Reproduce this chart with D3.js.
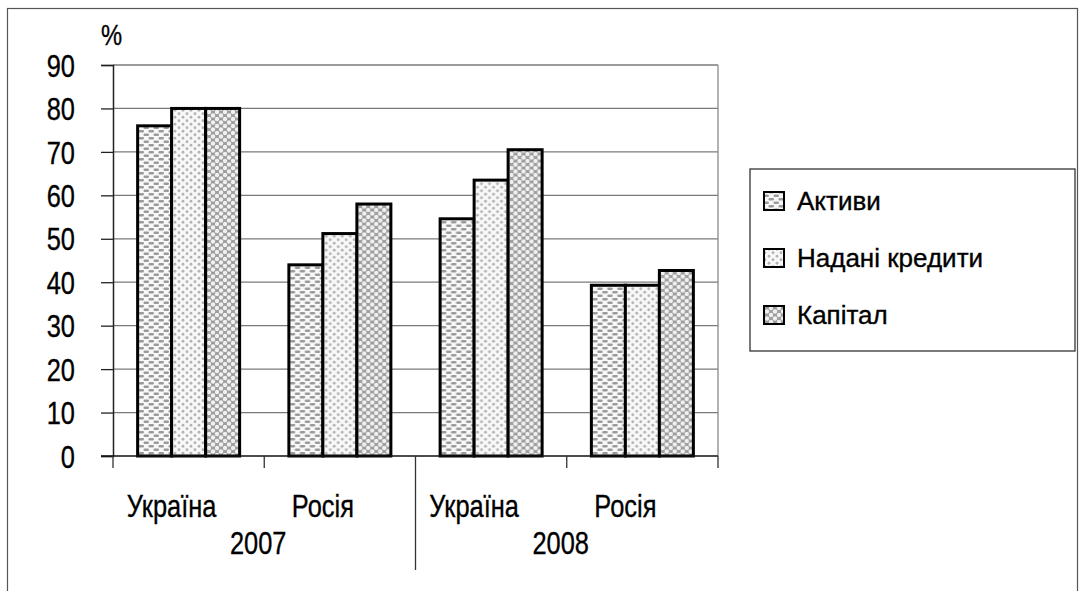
<!DOCTYPE html>
<html><head><meta charset="utf-8">
<script src="https://cdn.jsdelivr.net/npm/d3@7/dist/d3.min.js"></script>
<style>html,body{margin:0;padding:0;background:#fff;}svg{display:block;} text{stroke:#000;stroke-width:0.35px;}</style>
</head><body>
<svg id="chart" width="1081" height="591"></svg>
<script>
// ---- data ----
const groups = ["Україна 2007", "Росія 2007", "Україна 2008", "Росія 2008"];
const countryLabels = ["Україна", "Росія", "Україна", "Росія"];
const years = ["2007", "2008"];
const series = ["Активи", "Надані кредити", "Капітал"];
const aktyvy = [76, 44, 54.6, 39.3];
const kredyty = [80, 51.2, 63.5, 39.3];
const kapital = [80, 58, 70.5, 42.7];
const yTicks = [0, 10, 20, 30, 40, 50, 60, 70, 80, 90];

(function () {
const values = [aktyvy, kredyty, kapital];

const svg = d3.select("#chart");
const defs = svg.append("defs");

// patterns
const p1 = defs.append("pattern").attr("id", "pat0").attr("patternUnits", "userSpaceOnUse")
  .attr("width", 10).attr("height", 7);
p1.append("rect").attr("width", 10).attr("height", 7).attr("fill", "#f8f8f8");
[[0.5, 0.5], [5.5, 4], [-4.5, 4]].forEach(([x, y]) =>
  p1.append("rect").attr("x", x).attr("y", y).attr("width", 5.5).attr("height", 2.4).attr("rx", 1.2).attr("fill", "#9a9a9a"));

const p2 = defs.append("pattern").attr("id", "pat1").attr("patternUnits", "userSpaceOnUse")
  .attr("width", 8).attr("height", 7);
p2.append("rect").attr("width", 8).attr("height", 7).attr("fill", "#f8f8f8");
[[2, 1.75], [6, 5.25]].forEach(([x, y]) =>
  p2.append("circle").attr("cx", x).attr("cy", y).attr("r", 1.4).attr("fill", "#b3b3b3"));

const p3 = defs.append("pattern").attr("id", "pat2").attr("patternUnits", "userSpaceOnUse")
  .attr("width", 8).attr("height", 7);
p3.append("rect").attr("width", 8).attr("height", 7).attr("fill", "#9c9c9c");
[[0, 0], [8, 0], [0, 7], [8, 7], [4, 3.5]].forEach(([x, y]) =>
  p3.append("circle").attr("cx", x).attr("cy", y).attr("r", 2.2).attr("fill", "#f0f0f0"));

// outer border
svg.append("rect").attr("x", 7.5).attr("y", 8.5).attr("width", 1070).attr("height", 620)
  .attr("fill", "none").attr("stroke", "#555").attr("stroke-width", 1.2);

const pLeft = 113, pRight = 718, pTop = 65, pBottom = 456;
const x0 = d3.scaleBand().domain(groups).range([pLeft, pRight]).paddingInner(0).paddingOuter(0);
const bw = 34;
const inner = (x0.bandwidth() - bw * 3) / 2;
const x1 = d3.scaleBand().domain(series).range([inner, inner + bw * 3]);
const y = d3.scaleLinear().domain([0, 90]).range([pBottom, pTop]);

// gridlines
svg.append("g").selectAll("line").data(yTicks.filter(d => d > 0)).join("line")
  .attr("x1", pLeft).attr("x2", pRight).attr("y1", d => y(d)).attr("y2", d => y(d))
  .attr("stroke", "#7a7a7a").attr("stroke-width", 1.3);
// plot right border
svg.append("line").attr("x1", pRight).attr("x2", pRight).attr("y1", pTop).attr("y2", pBottom)
  .attr("stroke", "#8a8a8a").attr("stroke-width", 1.3);

// y axis
const yAxis = d3.axisLeft(y).tickValues(yTicks).tickSize(12).tickFormat(d3.format("d"));
const ya = svg.append("g").attr("transform", `translate(${pLeft},0)`).call(yAxis);
ya.select(".domain").attr("stroke", "#222").attr("stroke-width", 1.5);
ya.selectAll(".tick line").attr("stroke", "#222").attr("stroke-width", 1.3);
ya.selectAll(".tick text").remove();
ya.selectAll(".tick").append("text")
  .attr("transform", "translate(-38,0) scale(0.82,1)")
  .attr("text-anchor", "end").attr("dy", "0.36em")
  .attr("font-family", "Liberation Sans, Arial, sans-serif").attr("font-size", 31)
  .attr("fill", "#000").text(d => d);

svg.append("text").attr("transform", "translate(101,45) scale(0.82,1)")
  .attr("font-family", "Liberation Sans, Arial, sans-serif").attr("font-size", 29).text("%");

// bars
const gg = svg.append("g").selectAll("g").data(groups).join("g")
  .attr("transform", d => `translate(${x0(d)},0)`);
gg.selectAll("rect").data((g, gi) => series.map((s, si) => ({ s, si, v: values[si][gi] }))).join("rect")
  .attr("x", d => x1(d.s)).attr("width", x1.bandwidth())
  .attr("y", d => y(d.v)).attr("height", d => y(0) - y(d.v))
  .attr("fill", d => `url(#pat${d.si})`).attr("stroke", "#000").attr("stroke-width", 3);

// x axis line
svg.append("line").attr("x1", 101).attr("x2", pRight).attr("y1", pBottom).attr("y2", pBottom)
  .attr("stroke", "#111").attr("stroke-width", 1.5);
// category ticks
const bounds = groups.map(g => x0(g)).concat([pRight]);
svg.append("g").selectAll("line").data(bounds).join("line")
  .attr("x1", d => d).attr("x2", d => d).attr("y1", pBottom)
  .attr("y2", (d, i) => i === 2 ? 570 : 468)
  .attr("stroke", "#333").attr("stroke-width", 1.3);

// category labels
svg.append("g").selectAll("text").data(groups).join("text")
  .attr("transform", (d, i) => `translate(${x0(d) + x0.bandwidth() / 2 - 17},517) scale(0.82,1)`)
  .attr("text-anchor", "middle")
  .attr("font-family", "Liberation Sans, Arial, sans-serif").attr("font-size", 31)
  .text((d, i) => countryLabels[i]);
// year labels
svg.append("g").selectAll("text").data(years).join("text")
  .attr("transform", (d, i) => {
    const a = x0(groups[i * 2]), b = x0(groups[i * 2 + 1]) + x0.bandwidth();
    return `translate(${(a + b) / 2 - 6},554) scale(0.82,1)`;
  })
  .attr("text-anchor", "middle")
  .attr("font-family", "Liberation Sans, Arial, sans-serif").attr("font-size", 31)
  .text(d => d);

// legend
const lg = svg.append("g");
lg.append("rect").attr("x", 750).attr("y", 169).attr("width", 325).attr("height", 182)
  .attr("fill", "#fff").attr("stroke", "#333").attr("stroke-width", 1.3);
const li = lg.selectAll("g.item").data(series).join("g").attr("class", "item")
  .attr("transform", (d, i) => `translate(763,${201 + i * 57})`);
li.append("rect").attr("x", 1).attr("y", -9).attr("width", 20).attr("height", 18)
  .attr("fill", (d, i) => `url(#pat${i})`).attr("stroke", "#000").attr("stroke-width", 2);
li.append("text").attr("x", 34).attr("dy", "0.36em")
  .attr("font-family", "Liberation Sans, Arial, sans-serif").attr("font-size", 26)
  .text(d => d);
})();
</script>
</body></html>
